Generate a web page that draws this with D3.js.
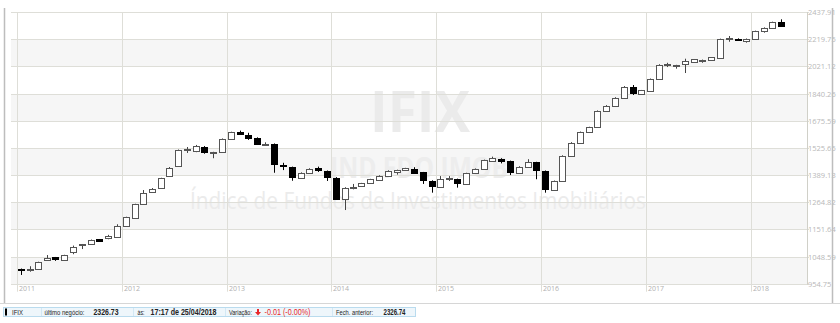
<!DOCTYPE html>
<html>
<head>
<meta charset="utf-8">
<script src="https://cdn.jsdelivr.net/npm/d3@7"></script>
<style>
  body { margin: 0; background: #fff; }
  svg { display: block; }
</style>
</head>
<body>
<div id="charts"></div>
<script>
// monthly candles, jan/2011 .. apr/2018
const startYear = 2011;
const opens = [1004, 1003, 1003, 1036, 1046, 1035, 1064, 1089, 1094, 1113, 1115, 1121,
    1164, 1196, 1256, 1311, 1327, 1384, 1433, 1514, 1506, 1532, 1500, 1506,
    1573, 1610, 1596, 1580, 1544, 1546, 1436, 1427, 1376, 1400, 1422, 1409,
    1376, 1282, 1328, 1337, 1350, 1369, 1388, 1405, 1413, 1420, 1402, 1362,
    1334, 1372, 1370, 1347, 1397, 1417, 1459, 1470, 1458, 1400, 1430, 1451,
    1409, 1321, 1361, 1483, 1553, 1610, 1638, 1732, 1764, 1814, 1880, 1837,
    1858, 1935, 2030, 2025, 2032, 2051, 2058, 2063, 2080, 2221, 2223, 2208,
    2223, 2283, 2307, 2355];
const highs = [1006, 1014, 1030, 1054, 1047, 1055, 1089, 1095, 1112, 1114, 1130, 1172,
    1203, 1258, 1319, 1328, 1376, 1428, 1517, 1530, 1541, 1535, 1505, 1576,
    1613, 1619, 1607, 1582, 1555, 1549, 1449, 1430, 1402, 1422, 1430, 1411,
    1379, 1332, 1347, 1352, 1371, 1388, 1412, 1415, 1424, 1427, 1404, 1364,
    1384, 1384, 1372, 1400, 1421, 1465, 1480, 1472, 1460, 1432, 1467, 1454,
    1411, 1363, 1487, 1556, 1614, 1641, 1736, 1768, 1817, 1888, 1895, 1863,
    1938, 2036, 2046, 2032, 2075, 2073, 2069, 2087, 2224, 2244, 2226, 2225,
    2286, 2312, 2358, 2377];
const lows = [984, 995, 1002, 1035, 1033, 1034, 1057, 1076, 1092, 1105, 1113, 1119,
    1162, 1194, 1253, 1309, 1324, 1382, 1430, 1499, 1503, 1495, 1472, 1503,
    1570, 1598, 1568, 1542, 1537, 1400, 1413, 1362, 1374, 1398, 1404, 1361,
    1279, 1231, 1322, 1335, 1348, 1367, 1385, 1391, 1411, 1400, 1347, 1307,
    1332, 1361, 1330, 1344, 1395, 1414, 1457, 1446, 1389, 1398, 1427, 1369,
    1307, 1315, 1358, 1480, 1550, 1607, 1635, 1729, 1761, 1810, 1831, 1834,
    1855, 1931, 2016, 2005, 1975, 2049, 2046, 2061, 2077, 2200, 2206, 2193,
    2220, 2270, 2304, 2323];
const closes = [1001, 1005, 1029, 1044, 1040, 1054, 1083, 1094, 1111, 1107, 1124, 1165,
    1201, 1256, 1306, 1325, 1373, 1425, 1514, 1518, 1534, 1504, 1504, 1573,
    1610, 1600, 1582, 1550, 1548, 1443, 1430, 1378, 1400, 1420, 1412, 1378,
    1282, 1330, 1333, 1350, 1369, 1386, 1410, 1413, 1422, 1402, 1362, 1339,
    1372, 1375, 1350, 1397, 1418, 1463, 1473, 1459, 1402, 1430, 1453, 1412,
    1324, 1361, 1485, 1553, 1611, 1638, 1732, 1764, 1814, 1884, 1841, 1861,
    1935, 2032, 2034, 2030, 2056, 2071, 2068, 2085, 2221, 2225, 2213, 2223,
    2283, 2309, 2355, 2326.73];

const yTicks = [954.75, 1048.59, 1151.64, 1264.82, 1389.13, 1525.65, 1675.59, 1840.26, 2021.12, 2219.75, 2437.91];
const years = [2011, 2012, 2013, 2014, 2015, 2016, 2017, 2018];

const infoName = 'IFIX';
const infoLast = '2326.73';
const infoTime = '17:17 de 25/04/2018';
const infoVar = '-0.01 (-0.00%)';
const infoPrev = '2326.74';

const W = 840, H = 323;
const plotL = 11, plotR = 807, plotT = 12, plotB = 283.7;
const gridColor = '#deded8';
const labelFont = "'Open Sans', 'Noto Sans', sans-serif";
const barFont = "'Liberation Sans Narrow', 'Liberation Sans', Arial, sans-serif";

let data = opens.map((o, i) => ({
    date: new Date(startYear, i, 16),
    open: o, high: highs[i], low: lows[i], close: closes[i]
}));

let x = d3.scaleTime()
    .domain([new Date(2010, 11, 12), new Date(2018, 6, 16)])
    .range([plotL, plotR]);

let y = d3.scaleLog()
    .domain([yTicks[0], yTicks[yTicks.length - 1]])
    .range([plotB, plotT]);

let svg = d3.select('#charts')
    .append('svg')
    .attr('width', W)
    .attr('height', H);

// alternating bands
let bands = [];
for (let i = 0; i < yTicks.length - 1; i += 2) bands.push([yTicks[i], yTicks[i + 1]]);
svg.append('g')
    .selectAll('rect')
    .data(bands)
    .join('rect')
    .attr('x', plotL)
    .attr('width', plotR - plotL)
    .attr('y', d => Math.round(y(d[1])))
    .attr('height', d => Math.round(y(d[0])) - Math.round(y(d[1])))
    .attr('fill', '#f6f6f6');

// watermark
let wm = svg.append('g').attr('font-family', labelFont).attr('text-anchor', 'start');
wm.append('text')
    .attr('x', 370).attr('y', 132)
    .attr('font-size', 58).attr('font-weight', 'bold')
    .attr('textLength', 100).attr('lengthAdjust', 'spacingAndGlyphs')
    .attr('fill', '#ebebeb')
    .text('IFIX');
wm.append('text')
    .attr('x', 330).attr('y', 178)
    .attr('font-size', 28).attr('font-weight', 'bold')
    .attr('textLength', 178).attr('lengthAdjust', 'spacingAndGlyphs')
    .attr('fill', '#ededed')
    .text('IND FDO IMOB');
wm.append('text')
    .attr('x', 190).attr('y', 209)
    .attr('font-size', 24)
    .attr('textLength', 456).attr('lengthAdjust', 'spacingAndGlyphs')
    .attr('fill', '#ebebeb')
    .text('Índice de Fundos de Investimentos Imobiliários');

// horizontal grid + right labels
let gy = svg.append('g');
gy.selectAll('line')
    .data(yTicks)
    .join('line')
    .attr('x1', plotL).attr('x2', plotR + 2)
    .attr('y1', d => Math.round(y(d)) + 0.5)
    .attr('y2', d => Math.round(y(d)) + 0.5)
    .attr('stroke', gridColor);
gy.selectAll('text')
    .data(yTicks)
    .join('text')
    .attr('x', plotR + 1)
    .attr('y', d => Math.round(y(d)) + 0.5)
    .attr('dy', '0.35em')
    .attr('font-family', labelFont)
    .attr('font-size', 7.5)
    .attr('fill', '#b8b8b8')
    .text(d => d3.format('.2f')(d));

// year grid + labels
let gx = svg.append('g');
gx.selectAll('line')
    .data(years)
    .join('line')
    .attr('x1', d => Math.round(x(new Date(d, 0, 1))) + 0.5)
    .attr('x2', d => Math.round(x(new Date(d, 0, 1))) + 0.5)
    .attr('y1', plotT)
    .attr('y2', plotB + 8)
    .attr('stroke', gridColor);
gx.selectAll('text')
    .data(years)
    .join('text')
    .attr('x', d => Math.round(x(new Date(d, 0, 1))) + 2)
    .attr('y', plotB + 7)
    .attr('font-family', labelFont)
    .attr('font-size', 7)
    .attr('fill', '#b0b0b0')
    .text(d => d);

// plot right edge
svg.append('line')
    .attr('x1', plotR + 0.5).attr('x2', plotR + 0.5)
    .attr('y1', plotT).attr('y2', plotB + 1)
    .attr('stroke', '#d0d0c8');

// candles
let candles = svg.append('g')
    .selectAll('g')
    .data(data)
    .join('g');

candles.append('line')
    .attr('x1', d => Math.round(x(d.date)) + 0.5)
    .attr('x2', d => Math.round(x(d.date)) + 0.5)
    .attr('y1', d => y(d.high))
    .attr('y2', d => y(d.low))
    .attr('stroke', d => d.close < d.open ? '#000' : '#444');

candles.append('rect')
    .attr('x', d => Math.round(x(d.date)) - 2.5)
    .attr('width', 6)
    .attr('y', d => Math.round(y(Math.max(d.open, d.close))) + 0.5)
    .attr('height', d => Math.max(1, Math.round(Math.abs(y(d.open) - y(d.close)))))
    .attr('fill', d => d.close < d.open ? '#000' : '#fff')
    .attr('stroke', d => d.close < d.open ? '#000' : '#555');

// outer frame lines
svg.append('line')
    .attr('x1', 4.5).attr('x2', 4.5).attr('y1', 8).attr('y2', 303)
    .attr('stroke', '#bdbdbd').attr('stroke-width', 1.5);
svg.append('line')
    .attr('x1', 832.5).attr('x2', 832.5).attr('y1', 8).attr('y2', 303)
    .attr('stroke', '#bdbdbd').attr('stroke-width', 1.5);
svg.append('line')
    .attr('x1', 0).attr('x2', W).attr('y1', 303.5).attr('y2', 303.5)
    .attr('stroke', '#d6d6d6');

// quote bar
let bar = svg.append('g').attr('font-family', barFont);
bar.append('rect')
    .attr('x', 3.5).attr('y', 307.5)
    .attr('width', 412).attr('height', 9)
    .attr('fill', '#eef6fb')
    .attr('stroke', '#b9dbee');
[41, 133, 225, 332].forEach(sx => {
    bar.append('line')
        .attr('x1', sx + 0.5).attr('x2', sx + 0.5)
        .attr('y1', 308).attr('y2', 316)
        .attr('stroke', '#d3e8f4');
});
bar.append('rect')
    .attr('x', 5).attr('y', 308.5).attr('width', 2).attr('height', 7)
    .attr('fill', '#000');

function barText(tx, txt, len, opts) {
    return bar.append('text')
        .attr('x', tx).attr('y', 314.8)
        .attr('font-size', opts.size)
        .attr('font-weight', opts.bold ? 'bold' : 'normal')
        .attr('fill', opts.color || '#222')
        .attr('textLength', len)
        .attr('lengthAdjust', 'spacingAndGlyphs')
        .text(txt);
}
barText(12, infoName, 11, {size: 8});
barText(44.5, 'último negócio:', 40, {size: 7});
barText(93.5, infoLast, 25, {size: 8.5, bold: true});
barText(137.5, 'às:', 7, {size: 7});
barText(150.5, infoTime, 66, {size: 8.5, bold: true});
barText(229, 'Variação:', 23, {size: 7});
bar.append('path')
    .attr('d', 'M257,309 h2 v3 h2 l-3,3.5 l-3,-3.5 h2 z')
    .attr('fill', '#e8262a');
barText(264.5, infoVar, 46, {size: 8.5, color: '#e8262a'});
barText(336, 'Fech. anterior:', 37, {size: 7});
barText(383.5, infoPrev, 22, {size: 8.5, bold: true});
</script>
</body>
</html>
